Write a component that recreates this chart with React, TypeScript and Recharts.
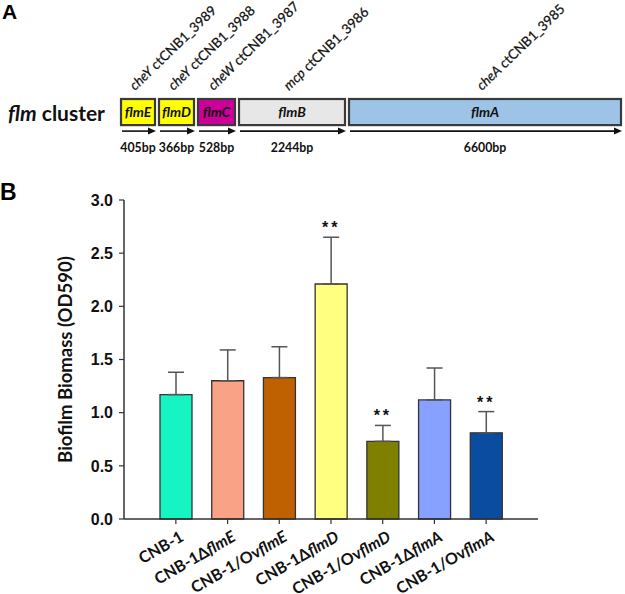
import React from 'react';
import { BarChart, Bar, XAxis, YAxis, ErrorBar, LabelList, Cell } from 'recharts';

// Panel A: gene map
const genes = ['flmE', 'flmD', 'flmC', 'flmB', 'flmA'];
const locusGenes = ['cheY', 'cheY', 'cheW', 'mcp', 'cheA'];
const locusTags = ['ctCNB1_3989', 'ctCNB1_3988', 'ctCNB1_3987', 'ctCNB1_3986', 'ctCNB1_3985'];
const geneBp = ['405bp', '366bp', '528bp', '2244bp', '6600bp'];
// drawn lengths in the map (the figure is not to scale)
const geneDrawn = [38, 39, 41, 110, 276];
const geneColors = ['#FFFF00', '#FFFF00', '#CC0099', '#E7E7E7', '#9DC3E6'];

// Panel B: biofilm biomass
const strainPrefix = ['CNB-1', 'CNB-1Δ', 'CNB-1/Ov', 'CNB-1Δ', 'CNB-1/Ov', 'CNB-1Δ', 'CNB-1/Ov'];
const strainGene = ['', 'flmE', 'flmE', 'flmD', 'flmD', 'flmA', 'flmA'];
const biomass = [1.17, 1.30, 1.33, 2.21, 0.73, 1.12, 0.81];
const biomassSd = [0.21, 0.29, 0.29, 0.44, 0.15, 0.30, 0.20];
const significance = ['', '', '', '**', '**', '', '**'];
const barColors = ['#14F5C3', '#F9A285', '#BF6100', '#FFFF80', '#808000', '#86A1FF', '#0A4DA0'];
const yTicks = [0, 0.5, 1.0, 1.5, 2.0, 2.5, 3.0];

const mapRow: Record<string, string | number> = { row: 'flm' };
genes.forEach((g, i) => { mapRow[g] = geneDrawn[i]; });
const mapData = [mapRow];
const mapTotal = geneDrawn.reduce((a, b) => a + b, 0);

const bioData = strainPrefix.map((p, i) => ({
  name: p + strainGene[i],
  value: biomass[i],
  err: [0, biomassSd[i]],
  sig: significance[i],
}));

const SANS = 'Lato, "Open Sans", sans-serif';

const GeneBox = (props: any) => {
  const { x, y, width, height, i } = props;
  const w = width - 4;
  const cx = x + w / 2;
  const ay = y + height + 6;
  const ax2 = x + width - 3;
  return (
    <g>
      <rect x={x} y={y} width={w} height={height} fill={geneColors[i]} stroke="#3A3A3A" strokeWidth={2.2} />
      <text x={cx} y={y + height / 2 + 5} textAnchor="middle"
        fontFamily={SANS} fontSize={14} fontStyle="italic" fontWeight="bold" fill="#111">{genes[i]}</text>
      <line x1={x + 1} y1={ay} x2={ax2 - 6} y2={ay} stroke="#111" strokeWidth={1.6} />
      <polygon points={`${ax2},${ay} ${ax2 - 8},${ay - 3.5} ${ax2 - 8},${ay + 3.5}`} fill="#111" />
      <text transform={`translate(${cx},${y + height + 27}) scale(0.88,1)`} textAnchor="middle"
        fontFamily={SANS} fontSize={14} fontWeight="bold" fill="#111">{geneBp[i]}</text>
      <text transform={`translate(${cx - 3},${y - 8}) rotate(-44)`} fontFamily={SANS} fontSize={13.5} fill="#111"
        stroke="#111" strokeWidth={0.25}>
        <tspan fontStyle="italic">{locusGenes[i]}</tspan> {locusTags[i]}
      </text>
    </g>
  );
};

const StrainTick = (props: any) => {
  const { x, y, index } = props;
  return (
    <g transform={`translate(${x + 9},${y + 14}) rotate(-30)`}>
      <text x={0} y={0} textAnchor="end" fontFamily={SANS} fontSize={16} fontWeight="bold" fill="#111">
        {strainPrefix[index]}
        <tspan fontStyle="italic">{strainGene[index]}</tspan>
      </text>
    </g>
  );
};

const StarLabel = (props: any) => {
  const { x, y, width, height, value, index } = props;
  if (!value) return null;
  const perUnit = height / biomass[index];
  const top = y - biomassSd[index] * perUnit;
  return (
    <text x={x + width / 2} y={top - 4} textAnchor="middle" fontFamily='"Liberation Sans", Arial, sans-serif'
      fontSize={16} fontWeight="bold" fill="#111" letterSpacing={3}>{value}</text>
  );
};

const YTitle = (props: any) => {
  const vb = props.viewBox;
  const cy = vb.y + vb.height / 2;
  return (
    <text transform={`translate(65,${cy}) rotate(-90)`} textAnchor="middle" dominantBaseline="central"
      fontFamily={SANS} fontSize={18.5} fontWeight="bold" fill="#111">Biofilm Biomass (OD590)</text>
  );
};

export default function App() {
  return (
    <div style={{ position: 'absolute', left: 0, top: 0, width: 625, height: 594, background: '#fff' }}>
      <style>{'.recharts-surface { overflow: visible; }'}</style>
      <div style={{ position: 'absolute', left: 2, top: 0, fontFamily: '"Liberation Sans", Arial', fontWeight: 'bold', fontSize: 21, lineHeight: '24px' }}>A</div>
      <div style={{ position: 'absolute', left: 0, top: 179, fontFamily: '"Liberation Sans", Arial', fontWeight: 'bold', fontSize: 23, lineHeight: '26px' }}>B</div>
      <div style={{ position: 'absolute', left: 8, top: 101, fontFamily: SANS, fontWeight: 'bold', fontSize: 21, lineHeight: '24px', color: '#111' }}>
        <i>flm</i> cluster
      </div>

      <div style={{ position: 'absolute', left: 0, top: 0 }}>
        <BarChart width={625} height={180} data={mapData} layout="vertical"
          margin={{ top: 98, right: 0, bottom: 53, left: 121 }}>
          <XAxis type="number" domain={[0, mapTotal]} hide />
          <YAxis type="category" dataKey="row" hide />
          {genes.map((g, i) => (
            <Bar key={g} dataKey={g} stackId="map" barSize={29} isAnimationActive={false}
              shape={(p: any) => <GeneBox {...p} i={i} />} />
          ))}
        </BarChart>
      </div>

      <div style={{ position: 'absolute', left: 0, top: 180 }}>
        <BarChart width={625} height={414} data={bioData}
          margin={{ top: 20, right: 87, bottom: 5, left: 34 }}>
          <XAxis dataKey="name" height={70} interval={0} tick={<StrainTick />}
            padding={{ left: 26, right: 26 }} tickSize={5}
            axisLine={{ stroke: '#333', strokeWidth: 1.5 }} tickLine={{ stroke: '#333', strokeWidth: 1.2 }} />
          <YAxis width={90} domain={[0, 3]} ticks={yTicks} tickFormatter={(v: number) => v.toFixed(1)}
            tickSize={5} tickMargin={6}
            tick={{ fill: '#111', fontSize: 16, fontWeight: 'bold', fontFamily: '"Liberation Sans", Arial' }}
            axisLine={{ stroke: '#333', strokeWidth: 1.5 }} tickLine={{ stroke: '#333', strokeWidth: 1.2 }}
            label={{ content: <YTitle /> }} />
          <Bar dataKey="value" barSize={32} stroke="#333" strokeWidth={1.3} isAnimationActive={false}>
            {bioData.map((d, i) => <Cell key={d.name} fill={barColors[i]} />)}
            <ErrorBar dataKey="err" width={8} stroke="#555" strokeWidth={1.5} direction="y" />
            <LabelList dataKey="sig" content={<StarLabel />} />
          </Bar>
        </BarChart>
      </div>
    </div>
  );
}
